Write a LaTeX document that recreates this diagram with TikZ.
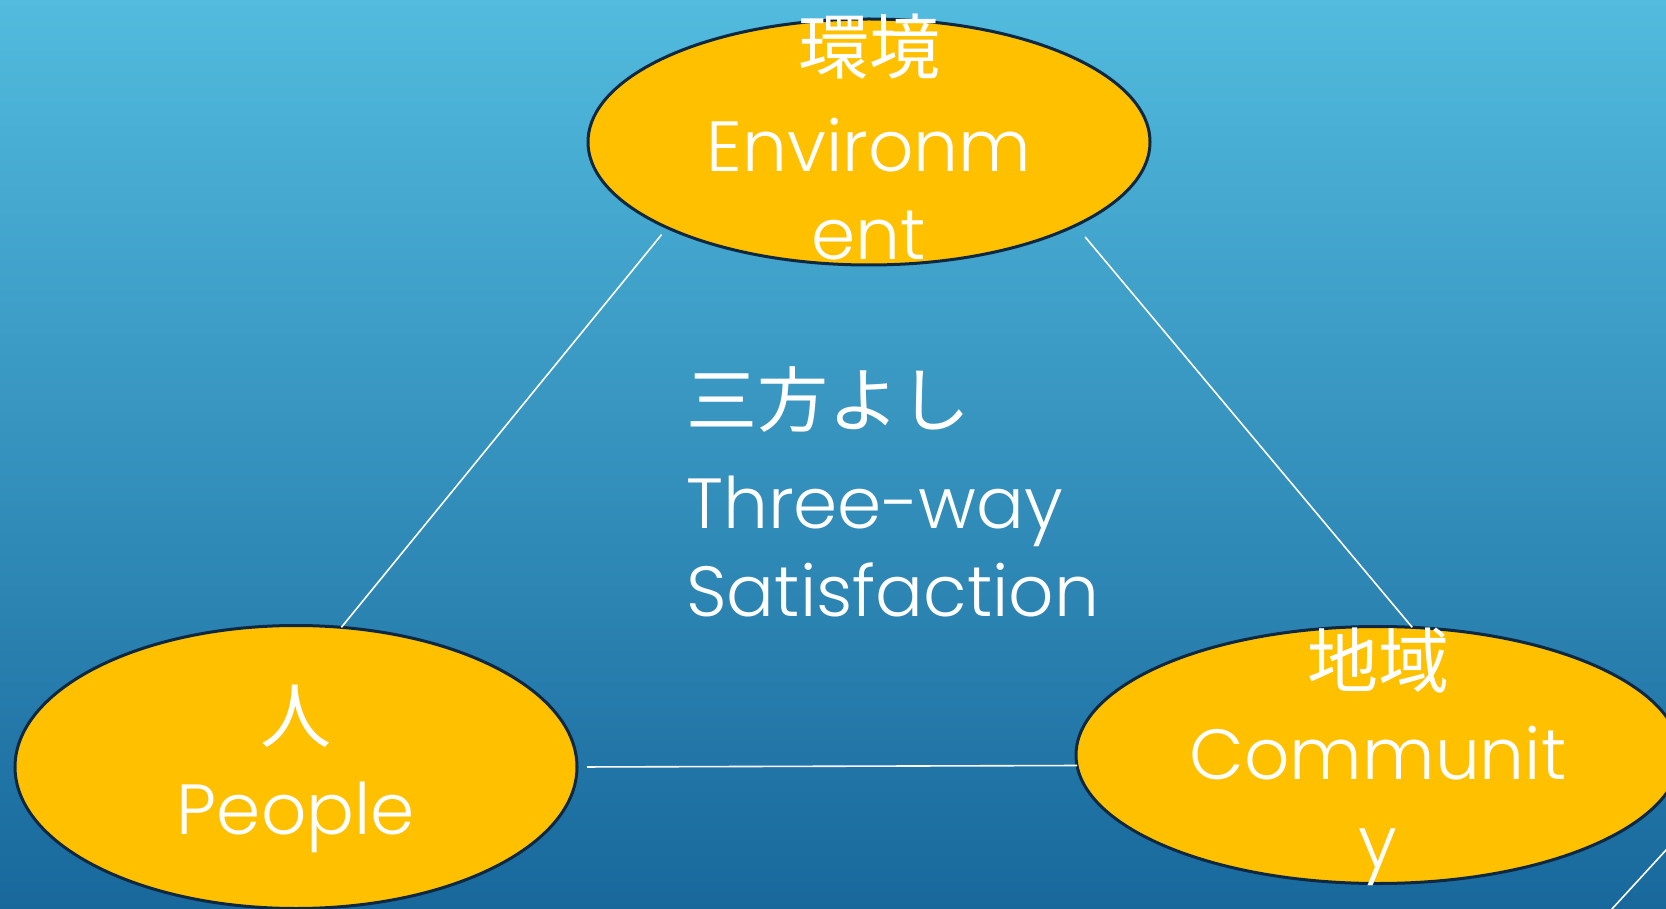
\documentclass[tikz,border=0pt]{standalone}
\usepackage{fontspec}
\setmainfont{Poppins}[UprightFont=* Light]
\newfontfamily\jpfont{Noto Sans CJK JP}
\usetikzlibrary{shapes.geometric}

\definecolor{bgtop}{RGB}{82,187,222}
\definecolor{bgbottom}{RGB}{24,104,156}
\definecolor{gold}{RGB}{255,192,0}
\definecolor{rim}{RGB}{14,40,65}

\tikzset{
  party/.style={ellipse, draw=rim, line width=3pt, fill=gold, inner sep=0pt, outer sep=0pt},
  caption/.style={text=white, align=center, font=\fontsize{71}{88}\selectfont, inner sep=0pt},
  link/.style={draw=white, line width=1.6pt},
}

\begin{document}
\begin{tikzpicture}[x=1pt,y=1pt,yscale=-1,xscale=1]
\useasboundingbox (0,0) rectangle (1666,909);
\clip (0,0) rectangle (1666,909);
\shade[top color=bgtop, bottom color=bgbottom] (0,0) rectangle (1666,909);

%Shape: Ellipse [environment]
\node[party, minimum width=562, minimum height=246] (env) at (869,142) {};
%Shape: Ellipse [people]
\node[party, minimum width=562, minimum height=283] (ppl) at (296,767) {};
%Shape: Ellipse [community]
\node[party, minimum width=604, minimum height=257] (com) at (1378,755) {};

%Straight Lines
\draw[link, shorten <=9pt] (env.203.7) -- (ppl.72);
\draw[link, shorten <=15pt] (env.338) -- (com.75);
\draw[link, shorten <=10pt] (ppl.0) -- (com.182.5);
%Straight Lines [corner]
\coordinate (decoA) at (1700,813);
\coordinate (decoB) at (1578,946);
\draw[link] (decoA) -- (decoB);

% Text Node
\node[caption] (envtext) at ([yshift=-5pt]env) {{\jpfont 環境}\\[10pt]Environm\\ent};
% Text Node
\node[caption] (ppltext) at ([yshift=2pt]ppl) {{\jpfont 人}\\[4pt]People};
% Text Node
\node[caption] (comtext) at ([yshift=2pt]com) {{\jpfont 地域}\\[4pt]Communit\\y};
% Text Node
\node[caption, align=left, anchor=north west] (motto) at (686,366) {{\jpfont 三方よし}\\[14pt]Three-way\\Satisfaction};

\end{tikzpicture}
\end{document}
